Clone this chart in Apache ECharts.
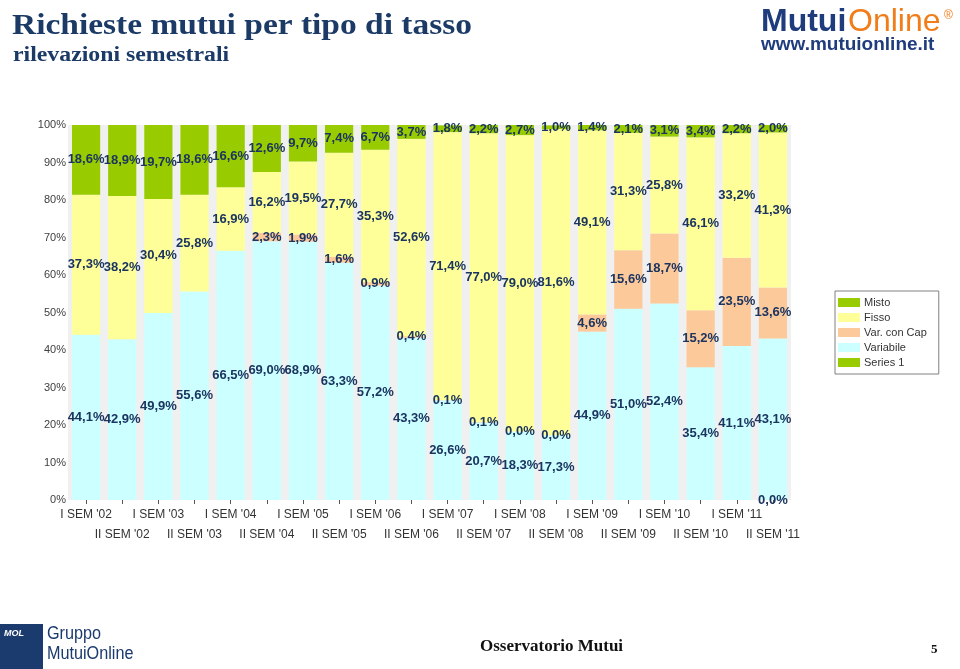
<!DOCTYPE html>
<html>
<head>
<meta charset="utf-8">
<script src="https://cdn.jsdelivr.net/npm/echarts@6/dist/echarts.min.js"></script>
<style>
html,body{margin:0;padding:0;background:#fff;}
#c{width:960px;height:669px;}
</style>
</head>
<body>
<div id="c"></div>
<script>
const categories = ["I SEM '02","II SEM '02","I SEM '03","II SEM '03","I SEM '04","II SEM '04","I SEM '05","II SEM '05","I SEM '06","II SEM '06","I SEM '07","II SEM '07","I SEM '08","II SEM '08","I SEM '09","II SEM '09","I SEM '10","II SEM '10","I SEM '11","II SEM '11"];
const variabile = [44.1,42.9,49.9,55.6,66.5,69.0,68.9,63.3,57.2,43.3,26.6,20.7,18.3,17.3,44.9,51.0,52.4,35.4,41.1,43.1];
const varConCap = [null,null,null,null,null,2.3,1.9,1.6,0.9,0.4,0.1,0.1,0.0,0.0,4.6,15.6,18.7,15.2,23.5,13.6];
const fisso = [37.3,38.2,30.4,25.8,16.9,16.2,19.5,27.7,35.3,52.6,71.4,77.0,79.0,81.6,49.1,31.3,25.8,46.1,33.2,41.3];
const misto = [18.6,18.9,19.7,18.6,16.6,12.6,9.7,7.4,6.7,3.7,1.8,2.2,2.7,1.0,1.4,2.1,3.1,3.4,2.2,2.0];
const series1 = [null,null,null,null,null,null,null,null,null,null,null,null,null,null,null,null,null,null,null,0.0];
const yTicks = [0,10,20,30,40,50,60,70,80,90,100];

const navy = '#1b3560';
const lbl = {
  show: true, position: 'inside', color: navy,
  fontFamily: 'Liberation Sans', fontWeight: 'bold', fontSize: 13,
  formatter: p => p.value.toFixed(1).replace('.', ',') + '%'
};
function mk(name, data, color) {
  return {name, type: 'bar', stack: 'a', data, barWidth: '78%',
    itemStyle: {color}, label: lbl, emphasis: {disabled: true}};
}

const chart = echarts.init(document.getElementById('c'), null, {renderer: 'canvas'});
chart.setOption({
  animation: false,
  backgroundColor: '#ffffff',
  grid: {left: 68, right: 169, top: 125, bottom: 169, show: true, backgroundColor: '#f0f0f0', borderWidth: 0},
  xAxis: {
    type: 'category', data: categories,
    axisLine: {show: false},
    axisTick: {show: true, alignWithLabel: true, length: 4, lineStyle: {color: '#555'}},
    axisLabel: {interval: 0, margin: 5, color: '#333', fontFamily: 'Liberation Sans', fontSize: 12, lineHeight: 20,
      formatter: (v, i) => (i % 2 === 1 ? '\n' + v : v)}
  },
  yAxis: {
    type: 'value', min: yTicks[0], max: yTicks[yTicks.length - 1], interval: 10,
    axisLine: {show: false}, axisTick: {show: false}, splitLine: {show: false},
    axisLabel: {margin: 2, color: '#404040', fontFamily: 'Liberation Sans', fontSize: 11, formatter: '{value}%'}
  },
  legend: {
    orient: 'vertical', left: 835, top: 291,
    data: ['Misto', 'Fisso', 'Var. con Cap', 'Variabile', 'Series 1'],
    itemWidth: 22, itemHeight: 9, itemGap: 4,
    padding: [6, 12, 6, 3],
    borderColor: '#808080', borderWidth: 1, backgroundColor: '#fff',
    icon: 'rect',
    textStyle: {color: '#333', fontFamily: 'Liberation Sans', fontSize: 11, lineHeight: 11, padding: [0,0,0,-1]},
    selectedMode: false
  },
  series: [
    mk('Series 1', series1, '#99cc00'),
    mk('Variabile', variabile, '#ccffff'),
    mk('Var. con Cap', varConCap, '#fcc99a'),
    mk('Fisso', fisso, '#ffff99'),
    mk('Misto', misto, '#99cc00')
  ],
  graphic: [
    {type: 'text', x: 12, y: 11, scaleX: 1.115, style: {text: 'Richieste mutui per tipo di tasso', fill: '#1b3a66', font: 'bold 30px "Liberation Serif"', verticalAlign: 'top'}},
    {type: 'text', x: 13, y: 46, scaleX: 1.19, style: {text: 'rilevazioni semestrali', fill: '#1b3a66', font: 'bold 20px "Liberation Serif"', verticalAlign: 'top'}},
    {type: 'text', left: 761, top: 6, style: {text: 'Mutui', fill: '#1f3c7d', font: 'bold 32px "Liberation Sans"'}},
    {type: 'text', left: 848, top: 6, style: {text: 'Online', fill: '#f07d1a', font: '32px "Liberation Sans"'}},
    {type: 'text', left: 944, top: 10, style: {text: '®', fill: '#f07d1a', font: '12px "Liberation Sans"'}},
    {type: 'text', left: 761, top: 35, style: {text: 'www.mutuionline.it', fill: '#1f3c7d', font: 'bold 19px "Liberation Sans"'}},
    {type: 'rect', shape: {x: 0, y: 624, width: 43, height: 45}, style: {fill: '#1b3a6e'}},
    {type: 'text', left: 4, top: 629, style: {text: 'MOL', fill: '#fff', font: 'italic bold 9px "Liberation Sans"'}},
    {type: 'text', x: 47, y: 625, scaleX: 0.9, style: {text: 'Gruppo', fill: '#1b3a6e', font: '18px "Liberation Sans"', verticalAlign: 'top'}},
    {type: 'text', x: 47, y: 645, scaleX: 0.9, style: {text: 'MutuiOnline', fill: '#1b3a6e', font: '18px "Liberation Sans"', verticalAlign: 'top'}},
    {type: 'text', left: 480, top: 638, style: {text: 'Osservatorio Mutui', fill: '#111', font: 'bold 17px "Liberation Serif"', align: 'center'}},
    {type: 'text', left: 931, top: 643, style: {text: '5', fill: '#111', font: 'bold 13px "Liberation Serif"'}}
  ]
});
</script>
</body>
</html>
